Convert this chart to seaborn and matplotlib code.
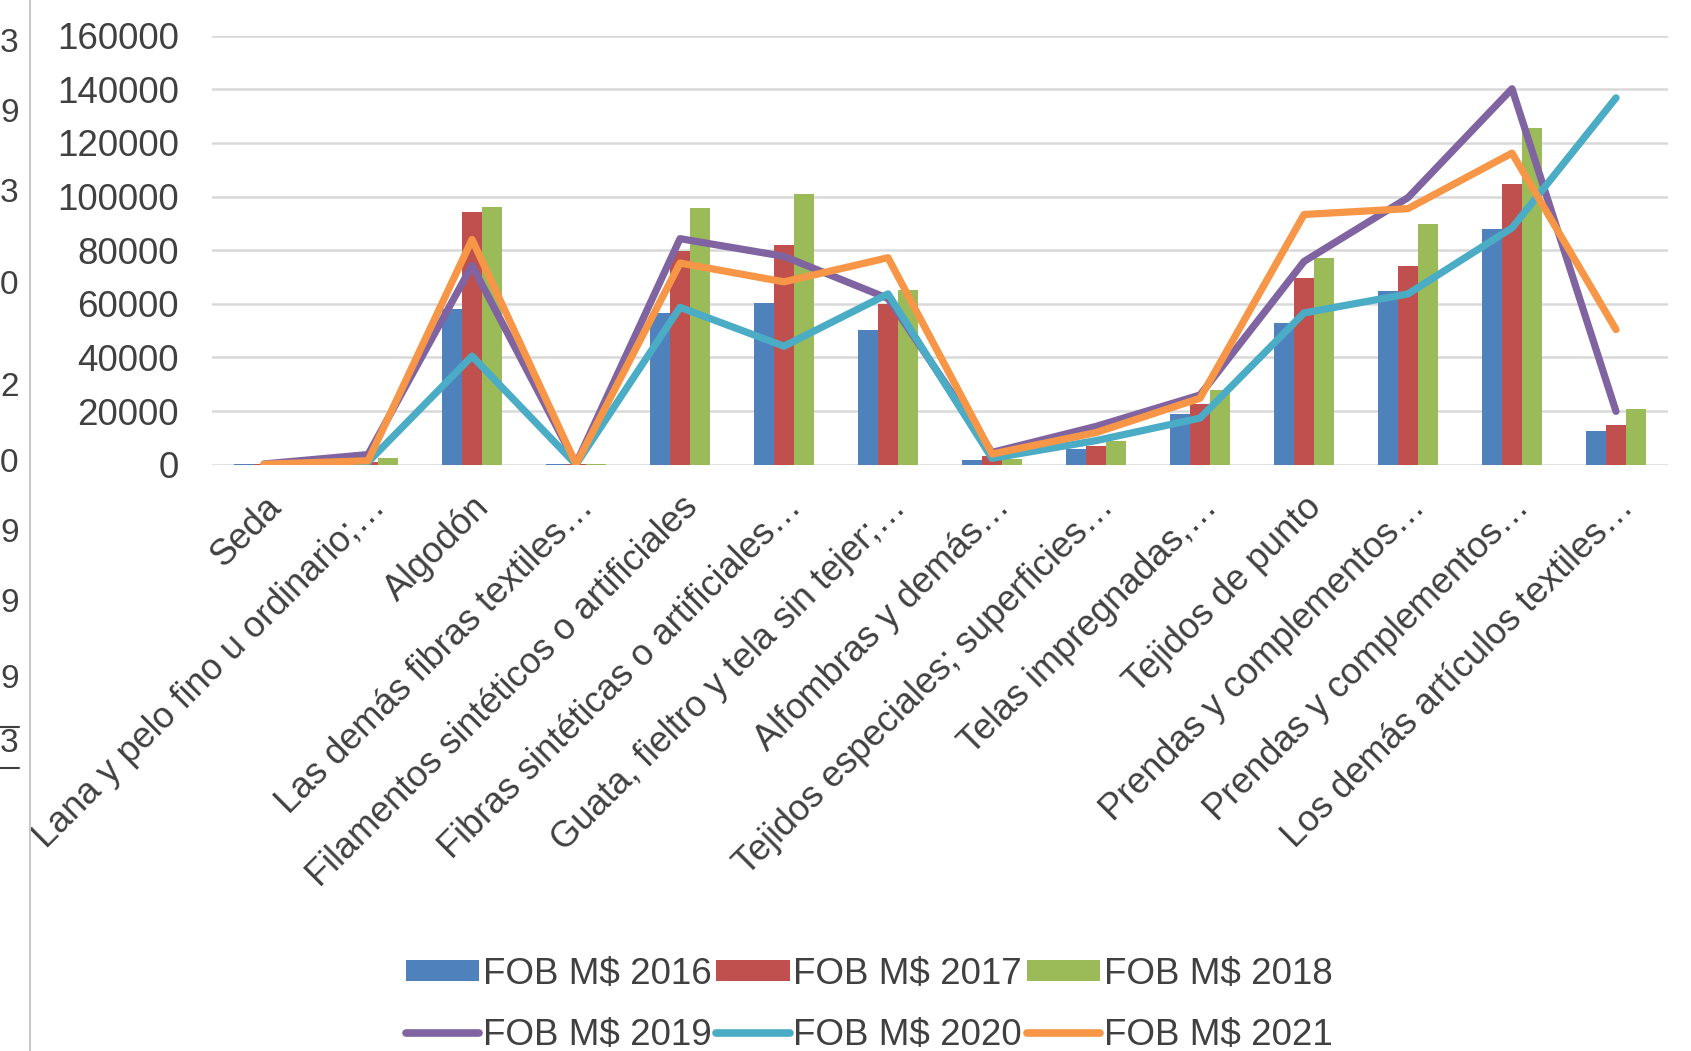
import matplotlib
matplotlib.use('Agg')
import matplotlib.pyplot as plt
from matplotlib.patches import Patch
from matplotlib.lines import Line2D
import seaborn as sns
import pandas as pd
import numpy as np

# Category labels as they appear (truncated) on the axis
categories = [
    'Seda',
    'Lana y pelo fino u ordinario;…',
    'Algodón',
    'Las demás fibras textiles…',
    'Filamentos sintéticos o artificiales',
    'Fibras sintéticas o artificiales…',
    'Guata, fieltro y tela sin tejer;…',
    'Alfombras y demás…',
    'Tejidos especiales; superficies…',
    'Telas impregnadas,…',
    'Tejidos de punto',
    'Prendas y complementos…',
    'Prendas y complementos…',
    'Los demás artículos textiles…',
]

# Bar series
fob_2016 = [100, 300, 58000, 100, 56500, 60300, 50300, 1800, 5800, 19000, 53000, 64800, 87800, 12500]
fob_2017 = [100, 1200, 94400, 100, 79600, 82100, 60000, 3100, 7000, 22800, 69800, 74200, 104800, 14800]
fob_2018 = [100, 2500, 96000, 100, 95800, 101000, 65200, 2300, 8900, 28000, 77000, 89800, 125600, 20700]

# Line series
fob_2019 = [300, 3800, 74300, 400, 84300, 77700, 62000, 4600, 14300, 26000, 75800, 99600, 140200, 19900]
fob_2020 = [100, 1000, 40500, 100, 58700, 44200, 63700, 2400, 9000, 17400, 56600, 63700, 88300, 136800]
fob_2021 = [200, 1500, 84000, 200, 75200, 68200, 77200, 4000, 12000, 24800, 93300, 95500, 116200, 50400]

bar_names = ['FOB M$ 2016', 'FOB M$ 2017', 'FOB M$ 2018']
line_names = ['FOB M$ 2019', 'FOB M$ 2020', 'FOB M$ 2021']
bar_colors = ['#4F81BD', '#C0504D', '#9BBB59']
line_colors = ['#8064A2', '#4BACC6', '#F79646']

# Fragments of the neighbouring table at the left edge of the screenshot
edge_digits = ['3', '9', '3', '0', '2', '0', '9', '9', '9', '3']

pos = list(range(len(categories)))
bars_df = pd.concat([
    pd.DataFrame({'pos': pos, 'value': vals, 'serie': name})
    for name, vals in zip(bar_names, [fob_2016, fob_2017, fob_2018])
])
lines_df = pd.concat([
    pd.DataFrame({'pos': pos, 'value': vals, 'serie': name})
    for name, vals in zip(line_names, [fob_2019, fob_2020, fob_2021])
])

sns.set_style('white')
plt.rcParams['font.family'] = ['Liberation Sans', 'DejaVu Sans']
text_color = '#404040'

fig = plt.figure(figsize=(16.91, 10.51), dpi=100)
ax = fig.add_axes([0.1254, 0.5578, 0.8610, 0.4083])

sns.barplot(data=bars_df, x='pos', y='value', hue='serie', hue_order=bar_names,
            palette=bar_colors, width=0.58, saturation=1, ax=ax, legend=False,
            edgecolor='none', zorder=2)
sns.lineplot(data=lines_df, x='pos', y='value', hue='serie', hue_order=line_names,
             palette=line_colors, linewidth=5.2, ax=ax, legend=False, zorder=3)

ax.set_xlim(-0.5, len(categories) - 0.5)
ax.set_ylim(0, 160000)
ax.set_yticks(np.arange(0, 160001, 20000))
ax.set_yticklabels([str(v) for v in range(0, 160001, 20000)])
ax.yaxis.grid(True, color='#D9D9D9', linewidth=1.8, zorder=0)
ax.set_axisbelow(True)
ax.set_xticks(pos)
ax.set_xticklabels(categories, rotation=45, ha='right', rotation_mode='anchor')
ax.tick_params(axis='y', length=0, pad=24, labelsize=26.5, labelcolor=text_color)
ax.tick_params(axis='x', length=0, pad=18, labelsize=26, labelcolor=text_color)
ax.set_xlabel('')
ax.set_ylabel('')
sns.despine(ax=ax, left=True, bottom=True)

# Legend: bars on first row, lines on second row
handles = []
for i in range(3):
    handles.append(Patch(facecolor=bar_colors[i], edgecolor='none', label=bar_names[i]))
    handles.append(Line2D([], [], color=line_colors[i], linewidth=5.5, label=line_names[i]))
fig.legend(handles=handles, loc='center', bbox_to_anchor=(0.514, 0.044), ncol=3,
           frameon=False, fontsize=26.5, handlelength=2.0, handleheight=0.5,
           handletextpad=0.1, columnspacing=0.12, labelspacing=0.72,
           labelcolor=text_color)

# Left border of the screenshot and the neighbouring digits
fig.add_artist(Line2D([0.0178, 0.0178], [0, 1], color='#C8C8C8', linewidth=1.5))
digit_y = [43, 113, 194, 286, 388, 464, 534, 604, 679, 744]
for d, yp in zip(edge_digits, digit_y):
    fig.text(0.0, 1 - yp / 1051, d, ha='left', va='center', fontsize=24,
             color=text_color)
for yp in [727, 768]:
    fig.add_artist(Line2D([0, 0.011], [1 - yp / 1051] * 2, color='#404040', linewidth=1.5))

fig.savefig('out.png', dpi=100)
